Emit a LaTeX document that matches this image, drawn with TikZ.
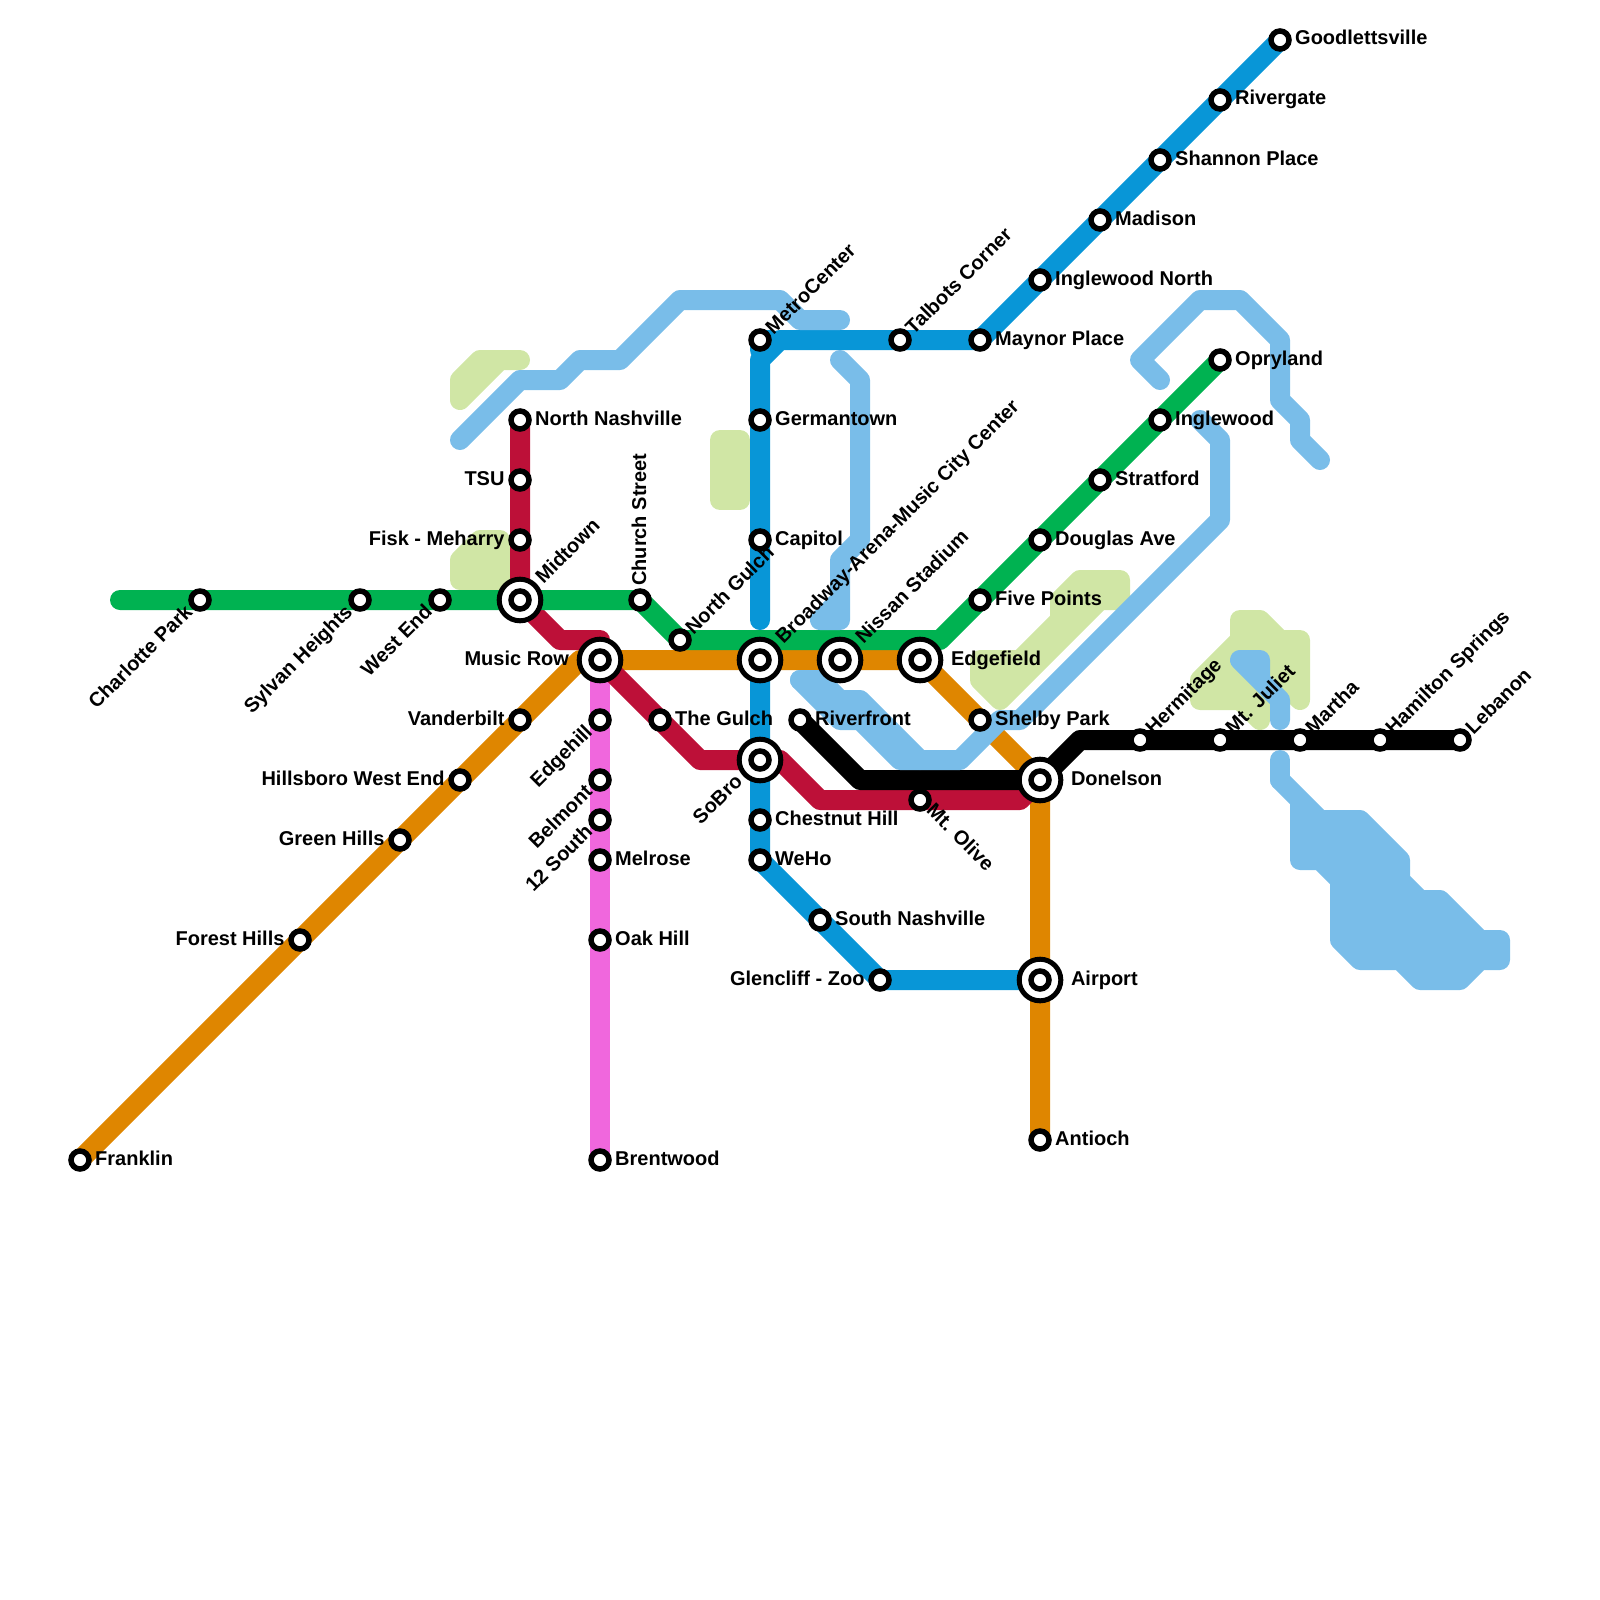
\documentclass[tikz,border=0pt]{standalone}
\usepackage{fontspec}
\setmainfont{Liberation Sans}
\usetikzlibrary{positioning,backgrounds}
\definecolor{Green}{HTML}{00B251}
\definecolor{Red}{HTML}{BD1038}
\definecolor{Orange}{HTML}{DF8600}
\definecolor{Blue}{HTML}{0896D7}
\definecolor{Pink}{HTML}{F067DD}
\definecolor{Water}{HTML}{79BDE9}
\definecolor{Park}{HTML}{D0E6A5}
\tikzset{
  metro/.style={line width=20pt, line cap=round, line join=round},
  water/.style={metro, draw=Water},
  lake/.style={water, fill=Water},
  park/.style={metro, draw=Park, fill=Park},
  stn/.style={circle, draw=black, fill=white, line width=5.5pt, minimum size=18pt, inner sep=0pt, outer sep=0pt},
  hub/.style={stn, line width=5pt, minimum size=41.6pt},
  lbl/.style={font=\fontsize{20}{24}\selectfont\bfseries, inner sep=0pt, text height=14.5pt, text depth=4.5pt},
  lblne/.style={lbl, anchor=west, xshift=10pt, yshift=8pt, rotate=45},
  lblneb/.style={lbl, anchor=west, xshift=20pt, yshift=19pt, rotate=45},
  lblsw/.style={lbl, anchor=east, xshift=-10pt, yshift=-9.5pt, rotate=45},
  lblswb/.style={lbl, anchor=east, xshift=-20pt, yshift=-19pt, rotate=45},
  lblse/.style={lbl, anchor=west, xshift=9pt, yshift=-8pt, rotate=-45},
  lblup/.style={lbl, anchor=west, xshift=1pt, yshift=14pt, rotate=90},
}
\begin{document}
\begin{tikzpicture}[x=1pt, y=-1pt, node distance=6pt]
  \useasboundingbox (0,0) rectangle (1600,1600);
  % stations
  \node[stn] (charlotte) at (200,600) {};
  \node[stn] (sylvan) at (360,600) {};
  \node[stn] (westend) at (440,600) {};
  \node[hub] (midtown) at (520,600) {};
  \node[stn] (midtownin) at (520,600) {};
  \node[stn] (church) at (640,600) {};
  \node[stn] (ngulch) at (680,640) {};
  \node[hub] (broadway) at (760,660) {};
  \node[stn] (broadwayin) at (760,660) {};
  \node[hub] (nissan) at (840,660) {};
  \node[stn] (nissanin) at (840,660) {};
  \node[hub] (edgefield) at (920,660) {};
  \node[stn] (edgefieldin) at (920,660) {};
  \node[hub] (musicrow) at (600,660) {};
  \node[stn] (musicrowin) at (600,660) {};
  \node[stn] (vanderbilt) at (520,720) {};
  \node[stn] (hillsboro) at (460,780) {};
  \node[stn] (greenhills) at (400,840) {};
  \node[stn] (foresthills) at (300,940) {};
  \node[stn] (franklin) at (80,1160) {};
  \node[stn] (edgehill) at (600,720) {};
  \node[stn] (belmont) at (600,780) {};
  \node[stn] (twelve) at (600,820) {};
  \node[stn] (melrose) at (600,860) {};
  \node[stn] (oakhill) at (600,940) {};
  \node[stn] (brentwood) at (600,1160) {};
  \node[stn] (gulch) at (660,720) {};
  \node[hub] (sobro) at (760,760) {};
  \node[stn] (sobroin) at (760,760) {};
  \node[stn] (chestnut) at (760,820) {};
  \node[stn] (weho) at (760,860) {};
  \node[stn] (southnash) at (820,920) {};
  \node[stn] (glencliff) at (880,980) {};
  \node[hub] (airport) at (1040,980) {};
  \node[stn] (airportin) at (1040,980) {};
  \node[stn] (antioch) at (1040,1140) {};
  \node[hub] (donelson) at (1040,780) {};
  \node[stn] (donelsonin) at (1040,780) {};
  \node[stn] (mtolive) at (920,800) {};
  \node[stn] (riverfront) at (800,720) {};
  \node[stn] (shelby) at (980,720) {};
  \node[stn] (hermitage) at (1140,740) {};
  \node[stn] (juliet) at (1220,740) {};
  \node[stn] (martha) at (1300,740) {};
  \node[stn] (hamilton) at (1380,740) {};
  \node[stn] (lebanon) at (1460,740) {};
  \node[stn] (fivepts) at (980,600) {};
  \node[stn] (douglas) at (1040,540) {};
  \node[stn] (stratford) at (1100,480) {};
  \node[stn] (inglewood) at (1160,420) {};
  \node[stn] (opryland) at (1220,360) {};
  \node[stn] (metrocenter) at (760,340) {};
  \node[stn] (germantown) at (760,420) {};
  \node[stn] (capitol) at (760,540) {};
  \node[stn] (talbots) at (900,340) {};
  \node[stn] (maynor) at (980,340) {};
  \node[stn] (inglenorth) at (1040,280) {};
  \node[stn] (madison) at (1100,220) {};
  \node[stn] (shannon) at (1160,160) {};
  \node[stn] (rivergate) at (1220,100) {};
  \node[stn] (goodlett) at (1280,40) {};
  \node[stn] (nnash) at (520,420) {};
  \node[stn] (tsu) at (520,480) {};
  \node[stn] (fisk) at (520,540) {};
  % labels
  \node[lbl, right=of nnash] (nnashl) {North Nashville};
  \node[lbl, left=6.3pt of tsu] (tsul) {TSU};
  \node[lbl, left=6.3pt of fisk] (fiskl) {Fisk - Meharry};
  \node[lblneb] (midtownl) at (midtown) {Midtown};
  \node[lblup] (churchl) at (church) {Church Street};
  \node[lblne] (ngulchl) at (ngulch) {North Gulch};
  \node[lblneb] (broadwayl) at (broadway) {Broadway-Arena-Music City Center};
  \node[lblneb] (nissanl) at (nissan) {Nissan Stadium};
  \node[lbl, right=10pt of edgefield] (edgefieldl) {Edgefield};
  \node[lbl, left=10pt of musicrow] (musicrowl) {Music Row};
  \node[lblsw] (charlottel) at (charlotte) {Charlotte Park};
  \node[lblsw] (sylvanl) at (sylvan) {Sylvan Heights};
  \node[lblsw] (westendl) at (westend) {West End};
  \node[lbl, left=6.3pt of vanderbilt] (vanderbiltl) {Vanderbilt};
  \node[lbl, left=6.3pt of hillsboro] (hillsborol) {Hillsboro West End};
  \node[lbl, left=6.3pt of greenhills] (greenhillsl) {Green Hills};
  \node[lbl, left=6.3pt of foresthills] (foresthillsl) {Forest Hills};
  \node[lbl, right=of franklin] (franklinl) {Franklin};
  \node[lblsw] (edgehilll) at (edgehill) {Edgehill};
  \node[lblsw] (belmontl) at (belmont) {Belmont};
  \node[lblsw] (twelvel) at (twelve) {12 South};
  \node[lbl, right=of melrose] (melrosel) {Melrose};
  \node[lbl, right=of oakhill] (oakhilll) {Oak Hill};
  \node[lbl, right=of brentwood] (brentwoodl) {Brentwood};
  \node[lbl, right=of gulch] (gulchl) {The Gulch};
  \node[lblswb] (sobrol) at (sobro) {SoBro};
  \node[lbl, right=of chestnut] (chestnutl) {Chestnut Hill};
  \node[lbl, right=of weho] (weholl) {WeHo};
  \node[lbl, right=of southnash] (southnashl) {South Nashville};
  \node[lbl, left=6.3pt of glencliff] (glencliffl) {Glencliff - Zoo};
  \node[lbl, right=10pt of airport] (airportl) {Airport};
  \node[lbl, right=of antioch] (antiochl) {Antioch};
  \node[lbl, right=10pt of donelson] (donelsonl) {Donelson};
  \node[lblse] (mtolivel) at (mtolive) {Mt. Olive};
  \node[lbl, right=of riverfront] (riverfrontl) {Riverfront};
  \node[lbl, right=of shelby] (shelbyl) {Shelby Park};
  \node[lblne] (hermitagel) at (hermitage) {Hermitage};
  \node[lblne] (julietl) at (juliet) {Mt. Juliet};
  \node[lblne] (marthal) at (martha) {Martha};
  \node[lblne] (hamiltonl) at (hamilton) {Hamilton Springs};
  \node[lblne] (lebanonl) at (lebanon) {Lebanon};
  \node[lbl, right=of fivepts] (fiveptsl) {Five Points};
  \node[lbl, right=of douglas] (douglasl) {Douglas Ave};
  \node[lbl, right=of stratford] (stratfordl) {Stratford};
  \node[lbl, right=of inglewood] (inglewoodl) {Inglewood};
  \node[lbl, right=of opryland] (oprylandl) {Opryland};
  \node[lblne] (metrocenterl) at (metrocenter) {MetroCenter};
  \node[lbl, right=of germantown] (germantownl) {Germantown};
  \node[lbl, right=of capitol] (capitoll) {Capitol};
  \node[lblne] (talbotsl) at (talbots) {Talbots Corner};
  \node[lbl, right=of maynor] (maynorl) {Maynor Place};
  \node[lbl, right=of inglenorth] (inglenorthl) {Inglewood North};
  \node[lbl, right=of madison] (madisonl) {Madison};
  \node[lbl, right=of shannon] (shannonl) {Shannon Place};
  \node[lbl, right=of rivergate] (rivergatel) {Rivergate};
  \node[lbl, right=of goodlett] (goodlettl) {Goodlettsville};
  \coordinate (greenend) at (120,600);
  \coordinate (blueend) at (760,620);
  \begin{scope}[on background layer]
    % parks
    \draw[park] (460,400) -- (460,380) -- (480,360) -- (520,360) -- (500,360) -- cycle;
    \draw[park] (460,580) -- (460,560) -- (480,540) -- (500,540) -- (500,580) -- cycle;
    \draw[park] (720,440) -- (740,440) -- (740,500) -- (720,500) -- cycle;
    \draw[park] (980,680) -- (980,660) -- (1020,660) -- (1060,620) -- (1060,600) -- (1080,580) -- (1120,580) -- (1120,600) -- (1100,600) -- (1000,700) -- cycle;
    \draw[park] (1200,700) -- (1200,680) -- (1240,640) -- (1240,620) -- (1260,620) -- (1280,640) -- (1300,640) -- (1300,700) -- (1280,680) -- (1260,680) -- (1260,720) -- (1240,700) -- cycle;
    % lines
    \draw[metro, Orange] (franklin.center) -- (foresthills.center) -- (greenhills.center) -- (hillsboro.center) -- (vanderbilt.center) -- (580,660) -- (musicrow.center) -- (broadway.center) -- (nissan.center) -- (edgefield.center) -- (shelby.center) -- (donelson.center) -- (airport.center) -- (antioch.center);
    \draw[metro, Pink] (musicrow.center) -- (edgehill.center) -- (belmont.center) -- (twelve.center) -- (melrose.center) -- (oakhill.center) -- (brentwood.center);
    \draw[metro, Blue] (blueend) -- (capitol.center) -- (germantown.center) -- (760,360) -- (780,340) -- (talbots.center) -- (maynor.center) -- (inglenorth.center) -- (madison.center) -- (shannon.center) -- (rivergate.center) -- (goodlett.center);
    \draw[metro, Blue] (760,350) -- (metrocenter.center) -- (770,340);
    \draw[metro, Blue] (broadway.center) -- (sobro.center) -- (chestnut.center) -- (weho.center) -- (southnash.center) -- (glencliff.center) -- (airport.center);
    \draw[metro, Red] (nnash.center) -- (tsu.center) -- (fisk.center) -- (midtown.center) -- (560,640) -- (600,640) -- (musicrow.center) -- (gulch.center) -- (700,760) -- (sobro.center) -- (780,760) -- (820,800) -- (mtolive.center) -- (1020,800) -- (donelson.center);
    \draw[metro, Green] (greenend) -- (charlotte.center) -- (sylvan.center) -- (westend.center) -- (midtown.center) -- (church.center) -- (ngulch.center) -- (940,640) -- (fivepts.center) -- (douglas.center) -- (stratford.center) -- (inglewood.center) -- (opryland.center);
    \draw[metro, black] (riverfront.center) -- (860,780) -- (donelson.center) -- (1080,740) -- (hermitage.center) -- (juliet.center) -- (martha.center) -- (hamilton.center) -- (lebanon.center);
    % water
    \draw[water] (460,440) -- (520,380) -- (560,380) -- (580,360) -- (620,360) -- (680,300) -- (780,300) -- (800,320) -- (840,320);
    \draw[water] (840,360) -- (860,380) -- (860,540) -- (840,560) -- (840,620) -- (820,620) -- (840,600);
    \draw[water] (1160,380) -- (1140,360) -- (1200,300) -- (1240,300) -- (1280,340) -- (1280,400) -- (1300,420) -- (1300,440) -- (1320,460);
    \draw[water] (800,680) -- (840,720) -- (860,720) -- (900,760) -- (960,760) -- (1000,720) -- (1020,720) -- (1220,520) -- (1220,440) -- (1200,420);
    \draw[water] (800,680) -- (820,680) -- (840,700) -- (860,700) -- (920,760);
    \draw[lake] (1240,660) -- (1260,660) -- (1260,680) -- (1280,700) -- (1280,720) -- (1280,700) -- cycle;
    \draw[water] (1280,760) -- (1280,780);
    \draw[lake] (1280,780) -- (1300,800) -- (1300,860) -- (1320,860) -- (1340,880) -- (1340,940) -- (1360,960) -- (1400,960) -- (1420,980) -- (1460,980) -- (1480,960) -- (1500,960) -- (1500,940) -- (1480,940) -- (1440,900) -- (1420,900) -- (1400,880) -- (1400,860) -- (1360,820) -- (1320,820) -- cycle;
  \end{scope}
\end{tikzpicture}
\end{document}
